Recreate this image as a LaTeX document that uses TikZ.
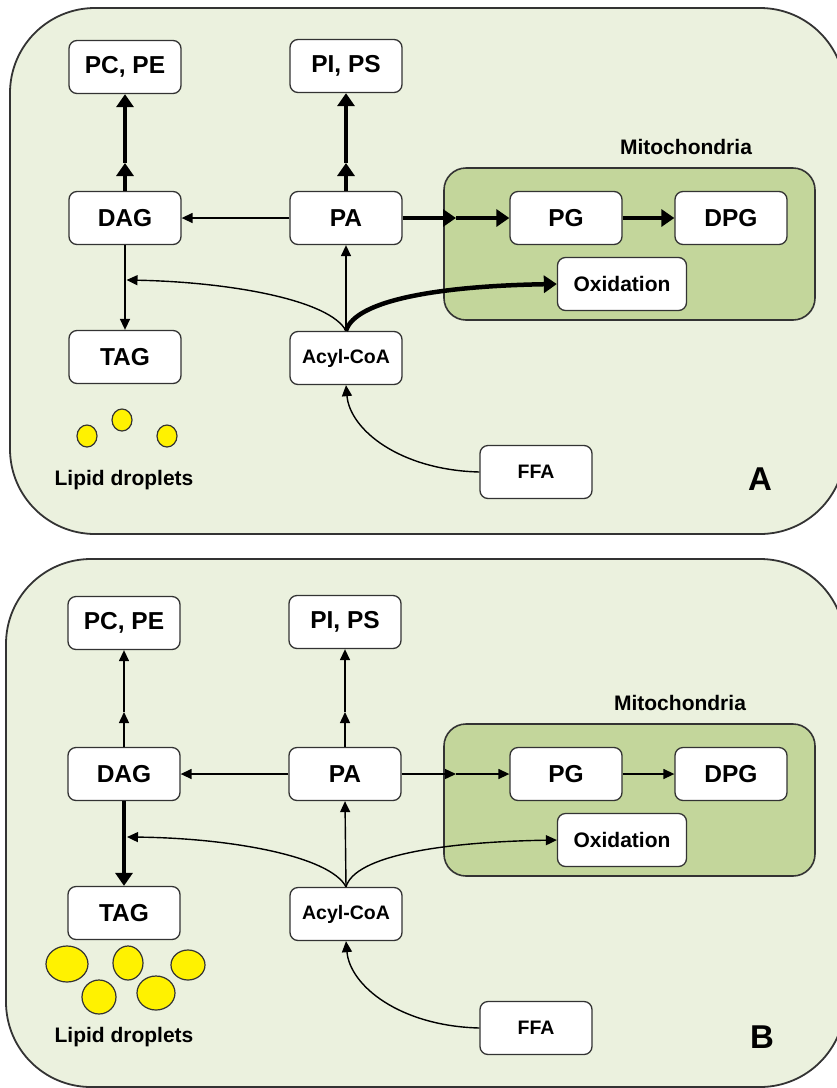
\documentclass[tikz,border=0pt]{standalone}
\usepackage{fontspec}
\setmainfont{Liberation Sans}
\usetikzlibrary{arrows.meta}
\definecolor{panelfill}{HTML}{EBF1DE}
\definecolor{mitofill}{HTML}{C3D69B}
\definecolor{edgegray}{HTML}{333333}
\begin{document}
\begin{tikzpicture}[x=1pt,y=-1pt,
  box/.style={draw=edgegray, line width=1.3pt, fill=white, rounded corners=8pt,
    minimum width=112pt, minimum height=53pt, inner sep=0pt,
    font=\fontsize{24.5}{28}\selectfont\bfseries},
  smallbox/.style={box, font=\fontsize{19.5}{23}\selectfont\bfseries},
  oxbox/.style={box, minimum width=129pt, font=\fontsize{21}{25}\selectfont\bfseries},
  lbl/.style={font=\fontsize{21}{25}\selectfont\bfseries, inner sep=0pt},
  biglbl/.style={font=\fontsize{33}{38}\selectfont\bfseries, inner sep=0pt},
  flow/.style={line width=1.4pt, -{Triangle[length=11pt,width=10pt]}},
  heavy/.style={line width=4.5pt, -{Triangle[length=13pt,width=17pt]}},
  panel/.style={draw=edgegray, line width=1.8pt, fill=panelfill, rounded corners=85pt},
  mito/.style={draw=edgegray, line width=1.6pt, fill=mitofill, rounded corners=22pt,
    minimum width=371pt, minimum height=152pt, inner sep=0pt},
  drop/.style={draw=edgegray, line width=1.2pt, fill=yellow}
]
\useasboundingbox (0,0) rectangle (837,1088);
\clip (0,0) rectangle (837,1088);
\fill[white] (0,0) rectangle (837,1088);

% ---------------- Panel A ----------------
\draw[panel] (10,8) rectangle (845,534);
\node[mito] (mitoA) at (629.5,244) {};
\node[lbl] (mitolblA) at (686,147) {Mitochondria};

\node[box] (pcA) at (125,67) {PC, PE};
\node[box] (piA) at (346,66) {PI, PS};
\node[box] (dagA) at (125,218) {DAG};
\node[box] (paA) at (346,218) {PA};
\node[box] (pgA) at (566,218) {PG};
\node[box] (dpgA) at (731,218) {DPG};
\node[oxbox] (oxA) at (622,284) {Oxidation};
\node[box] (tagA) at (125,357) {TAG};
\node[smallbox] (acylA) at (346,358) {Acyl-CoA};
\node[smallbox] (ffaA) at (536,472) {FFA};
\node[lbl] (lipidA) at (124,480) {Lipid droplets};
\node[biglbl] (labA) at (760,479) {A};

\draw[drop] (87,436) ellipse [x radius=10, y radius=11];
\draw[drop] (122,420) ellipse [x radius=10, y radius=11];
\draw[drop] (167,436) ellipse [x radius=10, y radius=11];

\coordinate (m1A) at (125,163);
\coordinate (m2A) at (346,163);
\coordinate (m3A) at (456,218);
\coordinate (jA) at (126.5,280);

\draw[heavy] (dagA.north) -- (m1A);
\draw[heavy] (m1A) -- (pcA.south);
\draw[heavy] (paA.north) -- (m2A);
\draw[heavy] (m2A) -- (piA.south);
\draw[flow] (paA.west) -- (dagA.east);
\draw[heavy] (paA.east) -- (m3A);
\draw[heavy] (m3A) -- (pgA.west);
\draw[heavy] (pgA.east) -- (dpgA.west);
\draw[flow] (dagA.south) -- (tagA.north);
\draw[flow] (acylA.north) -- (paA.south);
\draw[flow] (acylA.north) .. controls (330,300) and (230,282) .. (jA);
\draw[heavy] (acylA.north) .. controls (355,300) and (440,286) .. (oxA.west);
\draw[flow] (ffaA.west) .. controls (400,470) and (350,430) .. (acylA.south);

% ---------------- Panel B ----------------
\draw[panel] (6,559) rectangle (845,1087);
\node[mito] (mitoB) at (629.5,800) {};
\node[lbl] (mitolblB) at (680,703) {Mitochondria};

\node[box] (pcB) at (124,623) {PC, PE};
\node[box] (piB) at (345,622) {PI, PS};
\node[box] (dagB) at (124,774) {DAG};
\node[box] (paB) at (345,774) {PA};
\node[box] (pgB) at (566,774) {PG};
\node[box] (dpgB) at (731,774) {DPG};
\node[oxbox] (oxB) at (622,840) {Oxidation};
\node[box] (tagB) at (124,913) {TAG};
\node[smallbox] (acylB) at (346,914) {Acyl-CoA};
\node[smallbox] (ffaB) at (536,1028) {FFA};
\node[lbl] (lipidB) at (124,1037) {Lipid droplets};
\node[biglbl] (labB) at (762,1037) {B};

\draw[drop] (67,964) ellipse [x radius=21, y radius=18];
\draw[drop] (128,963) ellipse [x radius=15, y radius=17];
\draw[drop] (188,965) ellipse [x radius=17, y radius=15];
\draw[drop] (99,997) ellipse [x radius=17, y radius=17];
\draw[drop] (156,993) ellipse [x radius=19, y radius=17];

\coordinate (m1B) at (124,712);
\coordinate (m2B) at (345,712);
\coordinate (m3B) at (456,774);
\coordinate (jB) at (127,837);

\draw[flow] (dagB.north) -- (m1B);
\draw[flow] (m1B) -- (pcB.south);
\draw[flow] (paB.north) -- (m2B);
\draw[flow] (m2B) -- (piB.south);
\draw[flow] (paB.west) -- (dagB.east);
\draw[flow] (paB.east) -- (m3B);
\draw[flow] (m3B) -- (pgB.west);
\draw[flow] (pgB.east) -- (dpgB.west);
\draw[heavy] (dagB.south) -- (tagB.north);
\draw[flow] (acylB.north) -- (paB.south);
\draw[flow] (acylB.north) .. controls (330,856) and (230,838) .. (jB);
\draw[flow] (acylB.north) .. controls (355,856) and (440,842) .. (oxB.west);
\draw[flow] (ffaB.west) .. controls (400,1026) and (350,986) .. (acylB.south);
\end{tikzpicture}
\end{document}
